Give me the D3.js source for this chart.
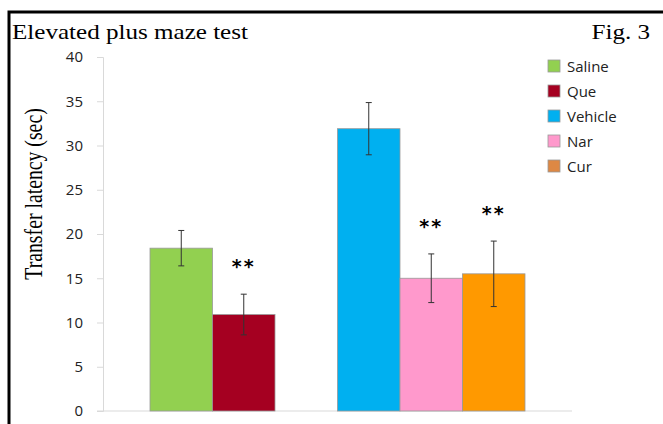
<!DOCTYPE html>
<html>
<head>
<meta charset="utf-8">
<script src="https://cdn.jsdelivr.net/npm/d3@7"></script>
<style>
  body { margin: 0; background: #fff; }
  svg { display: block; }
</style>
</head>
<body>
<div class="chart"></div>
<script>
// data
const groups = ["Saline", "Que", "Vehicle", "Nar", "Cur"];
const means = [18.4, 10.9, 31.9, 15.0, 15.5];
const errors = [2.0, 2.3, 2.95, 2.75, 3.7];
const stars = ["", "**", "", "**", "**"];
const slots = ["Saline", "Que", "gap", "Vehicle", "Nar", "Cur"];
const yTicks = [0, 5, 10, 15, 20, 25, 30, 35, 40];

const barColors = ["#92d050", "#a50021", "#00b0f0", "#ff99cc", "#ff9900"];
const legendColors = ["#92d050", "#a50021", "#00b0f0", "#ff99cc", "#dd8844"];

const W = 663, H = 424;
const svg = d3.select(".chart").append("svg")
  .attr("width", W).attr("height", H);

// frame round the figure
svg.append("rect")
  .attr("x", 9).attr("y", 12).attr("width", 700).attr("height", 500)
  .attr("fill", "none").attr("stroke", "#000").attr("stroke-width", 3);

// the scan is a bit stretched sideways, so the serif text is too
svg.append("text")
  .attr("transform", "translate(12,39) scale(1.14,1)")
  .attr("font-family", "Liberation Serif, Times New Roman, serif")
  .attr("font-size", 22)
  .text("Elevated plus maze test");

svg.append("text")
  .attr("transform", "translate(650,39) scale(1.14,1)")
  .attr("text-anchor", "end")
  .attr("font-family", "Liberation Serif, Times New Roman, serif")
  .attr("font-size", 22)
  .text("Fig. 3");

const xScale = d3.scaleBand().domain(slots).range([150, 525]).padding(0);
const yScale = d3.scaleLinear().domain([0, 40]).range([411, 57]);

// y axis
const yAxis = d3.axisLeft(yScale).tickValues(yTicks).tickSize(6).tickPadding(14);
const gy = svg.append("g")
  .attr("transform", "translate(103,0)")
  .call(yAxis);
gy.select(".domain").attr("stroke", "#d9d9d9");
gy.selectAll(".tick line").attr("stroke", "#d9d9d9");
gy.selectAll(".tick text")
  .attr("font-family", "Open Sans, Noto Sans, sans-serif")
  .attr("font-size", 15)
  .attr("fill", "#222");

// baseline
svg.append("line")
  .attr("x1", 97).attr("x2", 572)
  .attr("y1", yScale(0)).attr("y2", yScale(0))
  .attr("stroke", "#d9d9d9");

svg.append("text")
  .attr("transform", "translate(42,194) rotate(-90) scale(0.76,1)")
  .attr("text-anchor", "middle")
  .attr("font-family", "Liberation Serif, Times New Roman, serif")
  .attr("font-size", 26)
  .text("Transfer latency (sec)");

// bars
const rows = groups.map((g, i) => ({ g, m: means[i], e: errors[i], s: stars[i], c: barColors[i] }));

svg.selectAll(".bar").data(rows).enter().append("rect")
  .attr("class", "bar")
  .attr("x", d => xScale(d.g))
  .attr("y", d => yScale(d.m))
  .attr("width", xScale.bandwidth())
  .attr("height", d => yScale(0) - yScale(d.m))
  .attr("fill", d => d.c)
  .attr("stroke", "#999").attr("stroke-width", 0.8);

// error bars
const eb = svg.selectAll(".err").data(rows).enter().append("g").attr("class", "err")
  .attr("stroke", "#333").attr("stroke-width", 1);
const cx = d => xScale(d.g) + xScale.bandwidth() / 2;
eb.append("line")
  .attr("x1", cx).attr("x2", cx)
  .attr("y1", d => yScale(d.m + d.e)).attr("y2", d => yScale(d.m - d.e));
eb.append("line")
  .attr("x1", d => cx(d) - 3).attr("x2", d => cx(d) + 3)
  .attr("y1", d => yScale(d.m + d.e)).attr("y2", d => yScale(d.m + d.e));
eb.append("line")
  .attr("x1", d => cx(d) - 3).attr("x2", d => cx(d) + 3)
  .attr("y1", d => yScale(d.m - d.e)).attr("y2", d => yScale(d.m - d.e));

// significance marks
svg.selectAll(".star").data(rows.filter(d => d.s)).enter().append("text")
  .attr("class", "star")
  .attr("x", cx)
  .attr("y", d => yScale(d.m + d.e) - 21)
  .attr("text-anchor", "middle")
  .attr("font-family", "DejaVu Sans, sans-serif")
  .attr("font-weight", "bold")
  .attr("font-size", 19)
  .attr("letter-spacing", 2)
  .text(d => d.s);

// legend
const legend = svg.selectAll(".leg").data(groups).enter().append("g")
  .attr("class", "leg")
  .attr("transform", (d, i) => "translate(548," + (60 + i * 25) + ")");
legend.append("rect")
  .attr("width", 12).attr("height", 12)
  .attr("fill", (d, i) => legendColors[i])
  .attr("stroke", "#999").attr("stroke-width", 0.8);
legend.append("text")
  .attr("x", 19).attr("y", 11.5)
  .attr("font-family", "Open Sans, Noto Sans, sans-serif")
  .attr("font-size", 15)
  .attr("fill", "#222")
  .text(d => d);
</script>
</body>
</html>
